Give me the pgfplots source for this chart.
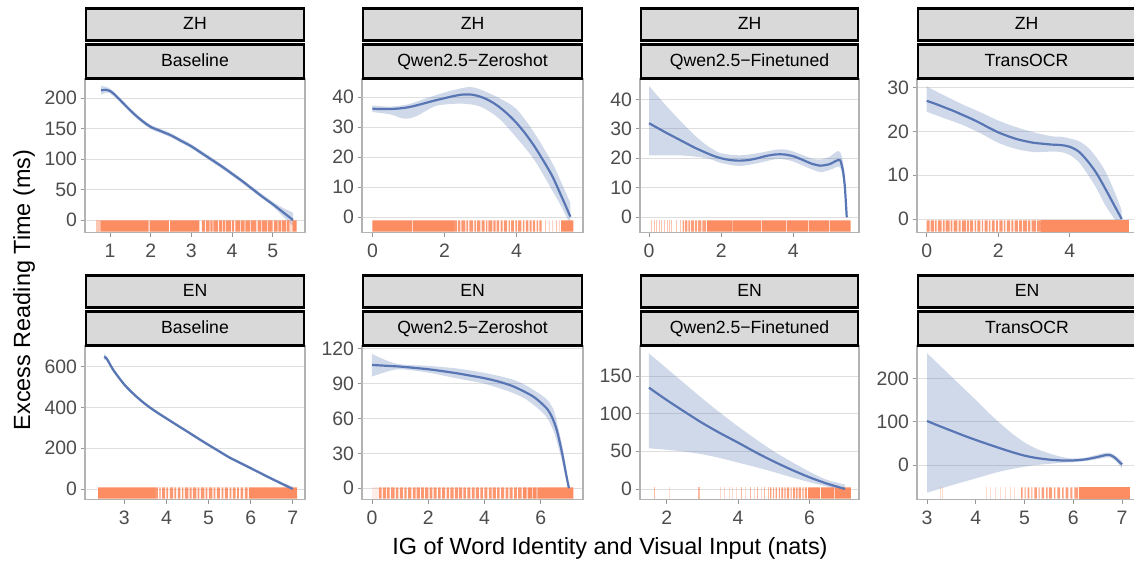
\documentclass[border=0pt]{standalone}
\usepackage{fontspec}
\setmainfont{Liberation Sans}
\usepackage{pgfplots}
\pgfplotsset{compat=1.18}
\usepgfplotslibrary{fillbetween}
\definecolor{linec}{RGB}{88,118,180}
\definecolor{rugc}{RGB}{252,141,98}
\definecolor{panelc}{RGB}{179,179,179}
\definecolor{gridc}{RGB}{222,222,222}
\definecolor{tickc}{RGB}{150,150,150}
\definecolor{labc}{RGB}{77,77,77}
\definecolor{stripc}{RGB}{217,217,217}
\pgfplotsset{
  panel/.style={
    scale only axis, height=153.3bp, anchor=south west,
    axis line style={panelc, line width=1.2bp},
    ymajorgrids, grid style={gridc, line width=0.9bp},
    tick pos=left, tick align=outside, major tick length=4.5bp,
    tick style={tickc, line width=0.9bp},
    ticklabel style={font=\fontsize{19.5}{22}\selectfont, text=labc},
    xticklabel style={yshift=-3.5bp},
    /pgf/number format/assume math mode=true,
    scaled ticks=false,
  },
  band/.style={draw=none, fill=linec, fill opacity=0.28},
  bnd/.style={draw=none, smooth, tension=0.5, forget plot},
  fit/.style={linec, line width=2.2bp, smooth, tension=0.5, mark=none},
  rugl/.style={only marks, mark=|, mark size=5.75bp, rugc, mark options={line width=0.8bp}, forget plot},
}
% rug segments: list of a/b intervals, drawn between \yb and \yt (set per panel)
\newcommand{\rugset}[2]{%
  \gdef\rugcoords{}%
  \foreach \a/\b in {#2}{\xdef\rugcoords{\rugcoords (\a,\yb) (\b,\yb) (\b,\yt) (\a,\yt) (\a,nan)}}%
  \edef\rugtmp{\noexpand\addplot[draw=none, fill=rugc, fill opacity=#1, forget plot, unbounded coords=jump] coordinates {\rugcoords};}%
  \rugtmp}
\newcommand{\facet}[5]{%
  \draw[fill=stripc, draw=black, line width=2.5bp] (#1+1.2,#3+38.7) rectangle (#1+#2-1.2,#3+70.7);
  \node[anchor=base, font=\fontsize{17.7}{20}\selectfont] at (#1+#2/2,#3+49.2) {#4};
  \draw[fill=stripc, draw=black, line width=2.5bp] (#1+1.2,#3+0.7) rectangle (#1+#2-1.2,#3+34.7);
  \node[anchor=base, font=\fontsize{17.7}{20}\selectfont] at (#1+#2/2,#3+12.2) {#5};
}
\begin{document}
\begin{tikzpicture}[x=1bp,y=1bp]

% ---------- P1: ZH Baseline
\gdef\yb{-19.2}\gdef\yt{-0.5}
\begin{axis}[panel, at={(85bp,328.7bp)}, width=220bp, xmin=0.385, xmax=5.794, ymin=-20.2, ymax=231.7,
  xtick={1,2,3,4,5}, ytick={0,50,100,150,200}]
\addplot[bnd, name path=u1] coordinates {(0.78,220) (0.9,219) (1.0,216) (1.25,200.5) (1.5,183.5) (1.75,168.5) (2.0,156.5) (2.25,149.5) (2.5,142.5) (2.75,133.5) (3.0,124.5) (3.5,102.5) (4.0,79.5) (4.5,54.5) (5.0,30) (5.25,20) (5.5,12)};
\addplot[bnd, name path=l1] coordinates {(0.78,206) (0.9,209) (1.0,208) (1.25,193.5) (1.5,176.5) (1.75,161.5) (2.0,149.5) (2.25,142.5) (2.5,135.5) (2.75,126.5) (3.0,117.5) (3.5,95.5) (4.0,72.5) (4.5,47.5) (5.0,22) (5.25,6) (5.5,-10)};
\addplot[band] fill between[of=u1 and l1];
\rugset{0.5}{0.66/0.76}
\rugset{1}{0.76/1.95, 1.975/2.45, 2.475/3.2, 5.49/5.59}
\rugset{0.95}{3.26/3.34, 3.36/3.45, 3.47/3.52, 3.54/3.66, 3.68/3.75, 3.77/3.83, 3.85/3.98, 4.0/4.05, 4.08/4.2, 4.22/4.31, 4.33/4.45, 4.47/4.6, 4.63/4.72, 4.74/4.86, 4.88/5.0, 5.03/5.12, 5.14/5.2, 5.22/5.33, 5.35/5.41}
\rugset{0.3}{5.41/5.49}
\addplot[fit] coordinates {(0.78,213) (0.9,214) (1.0,212) (1.1,207) (1.25,197) (1.5,180) (1.75,165) (2.0,153) (2.25,146) (2.5,139) (2.75,130) (3.0,121) (3.25,110) (3.5,99) (3.75,88) (4.0,76) (4.25,64) (4.5,51) (4.75,38) (5.0,26) (5.25,13) (5.5,0)};
\end{axis}

% ---------- P2: ZH Qwen2.5-Zeroshot
\gdef\yb{-4.8}\gdef\yt{-1.0}
\begin{axis}[panel, at={(362bp,328.7bp)}, width=221bp, xmin=-0.29, xmax=5.85, ymin=-5.0, ymax=46.0,
  xtick={0,2,4}, ytick={0,10,20,30,40}]
\addplot[bnd, name path=u2] coordinates {(0,37.2) (0.5,36.8) (1.0,37.6) (1.5,39.6) (2.0,41.5) (2.5,43.0) (2.75,43.3) (3.0,42.5) (3.5,39.8) (4.0,36.0) (4.5,28.0) (5.0,18.0) (5.25,11.5) (5.5,4.7)};
\addplot[bnd, name path=l2] coordinates {(0,35.0) (0.5,34.2) (0.8,33.0) (1.0,32.8) (1.25,33.8) (1.5,35.5) (1.75,37.0) (2.0,37.5) (2.5,37.8) (3.0,36.8) (3.5,33.0) (4.0,26.5) (4.5,19.0) (5.0,8.8) (5.25,3.5) (5.5,-2.5)};
\addplot[band] fill between[of=u2 and l2];
\rugset{1}{0/1.1, 1.125/2.26, 5.24/5.58}
\rugset{0.9}{2.26/2.35, 2.38/2.44, 2.47/2.58, 2.61/2.66, 2.69/2.80, 2.83/2.88, 2.91/3.0, 3.03/3.12, 3.15/3.19, 3.22/3.33, 3.36/3.42, 3.45/3.52, 3.56/3.62, 3.65/3.74, 3.78/3.82, 3.85/3.93, 3.97/4.02, 4.05/4.14, 4.18/4.22, 4.26/4.33, 4.37/4.42, 4.46/4.52, 4.56/4.6, 4.64/4.7}
\rugset{0.55}{4.80/4.82, 4.9/4.92, 5.0/5.02, 5.1/5.13, 5.18/5.2}
\addplot[fit] coordinates {(0,36.1) (0.25,36.0) (0.5,36.0) (0.75,36.2) (1.0,36.6) (1.25,37.3) (1.5,38.1) (1.75,38.9) (2.0,39.6) (2.25,40.3) (2.5,40.8) (2.75,40.8) (3.0,40.1) (3.25,38.8) (3.5,36.9) (3.75,34.4) (4.0,31.4) (4.25,27.8) (4.5,23.6) (4.75,18.8) (5.0,13.6) (5.25,7.0) (5.5,0.2)};
\end{axis}

% ---------- P3: ZH Qwen2.5-Finetuned
\gdef\yb{-4.9}\gdef\yt{-1.03}
\begin{axis}[panel, at={(640bp,328.7bp)}, width=219bp, xmin=-0.25, xmax=5.82, ymin=-5.1, ymax=46.9,
  xtick={0,2,4}, ytick={0,10,20,30,40}]
\addplot[bnd, name path=u3] coordinates {(0,44.5) (0.25,41) (0.5,37.5) (0.75,34.2) (1.0,31) (1.25,28) (1.5,25.3) (1.75,23.2) (2.0,21.7) (2.5,21.0) (3.0,21.7) (3.5,22.9) (3.75,23) (4.0,22.3) (4.5,20.0) (4.75,19.6) (5.0,20.5) (5.2,22.3) (5.3,22.0) (5.38,18.5) (5.43,12.5) (5.48,1.5)};
\addplot[bnd, name path=l3] coordinates {(0,21.0) (0.5,21.0) (1.0,20.9) (1.5,20.2) (1.75,19.5) (2.0,18.4) (2.5,17.4) (3.0,18.3) (3.5,19.7) (3.75,19.6) (4.0,18.9) (4.5,16.3) (4.75,15.3) (5.0,16.0) (5.2,17.0) (5.3,16.8) (5.38,12.5) (5.43,7.5) (5.48,-1.5)};
\addplot[band] fill between[of=u3 and l3];
\addplot[rugl, opacity=0.5] coordinates {(0.055,-2.97) (0.14,-2.97) (0.21,-2.97) (0.29,-2.97) (0.35,-2.97) (0.42,-2.97) (0.51,-2.97) (0.57,-2.97) (0.63,-2.97) (0.77,-2.97) (0.86,-2.97)};
\rugset{0.85}{0.93/0.97, 1.0/1.06, 1.09/1.13, 1.16/1.24, 1.27/1.33, 1.36/1.45, 1.48/1.58}
\rugset{1}{1.61/2.3, 2.32/3.1, 3.12/3.8, 3.82/4.4, 4.42/5.0, 5.02/5.59}
\addplot[fit, tension=0.4] coordinates {(0,31.9) (0.25,30.2) (0.5,28.5) (0.75,26.9) (1.0,25.3) (1.25,23.7) (1.5,22.3) (1.75,21.0) (2.0,20.0) (2.25,19.4) (2.5,19.2) (2.75,19.4) (3.0,20.0) (3.25,20.8) (3.5,21.3) (3.75,21.3) (4.0,20.7) (4.25,19.5) (4.5,18.2) (4.75,17.5) (5.0,18.0) (5.2,19.2) (5.3,19.3) (5.38,15.5) (5.43,10) (5.48,0)};
\end{axis}

% ---------- P4: ZH TransOCR
\gdef\yb{-2.9}\gdef\yt{-0.3}
\begin{axis}[panel, at={(917bp,328.7bp)}, width=219bp, xmin=-0.27, xmax=5.85, ymin=-3.04, ymax=32.0,
  xtick={0,2,4}, ytick={0,10,20,30}]
\addplot[bnd, name path=u4] coordinates {(0,30.3) (0.5,28.2) (1.0,26.2) (1.5,24.4) (2.0,22.5) (2.5,21.0) (3.0,19.8) (3.5,18.9) (3.75,18.8) (4.0,18.4) (4.25,17.8) (4.5,16.4) (4.75,14.0) (5.0,10.8) (5.25,6.2) (5.45,2.0)};
\addplot[bnd, name path=l4] coordinates {(0,24.5) (0.5,23.0) (1.0,21.5) (1.5,19.6) (2.0,17.4) (2.5,16.0) (3.0,15.3) (3.5,15.4) (3.75,15.3) (4.0,14.6) (4.25,13.0) (4.5,10.2) (4.75,6.9) (5.0,3.0) (5.25,0.0) (5.45,-1.8)};
\addplot[band] fill between[of=u4 and l4];
\rugset{0.9}{0/0.08, 0.11/0.2, 0.23/0.28, 0.31/0.42, 0.45/0.5, 0.53/0.64, 0.67/0.72, 0.75/0.86, 0.89/0.95, 0.98/1.1, 1.13/1.18, 1.21/1.3, 1.34/1.38, 1.42/1.5, 1.54/1.58, 1.62/1.7, 1.74/1.78, 1.82/1.9, 1.94/1.99, 2.03/2.12, 2.16/2.2, 2.24/2.33, 2.37/2.42, 2.46/2.55, 2.58/2.66, 2.69/2.8, 2.83/2.9, 2.93/3.05, 3.08/3.2}
\rugset{1}{3.2/5.66}
\addplot[fit] coordinates {(0,27.0) (0.25,26.3) (0.5,25.5) (0.75,24.7) (1.0,23.8) (1.25,22.9) (1.5,21.9) (1.75,20.8) (2.0,19.8) (2.25,19.0) (2.5,18.3) (2.75,17.8) (3.0,17.4) (3.25,17.2) (3.5,17.0) (3.75,16.9) (4.0,16.5) (4.25,15.4) (4.5,13.2) (4.75,10.4) (5.0,6.8) (5.25,3.0) (5.45,0)};
\end{axis}

% ---------- P5: EN Baseline
\gdef\yb{-47.6}\gdef\yt{8.3}
\begin{axis}[panel, at={(85bp,61.7bp)}, width=220bp, xmin=2.067, xmax=7.29, ymin=-50.5, ymax=701,
  xtick={3,4,5,6,7}, ytick={0,200,400,600}]
\addplot[bnd, name path=u5] coordinates {(2.52,663) (2.58,652) (2.65,626) (2.75,590) (3.0,521) (3.25,468) (3.5,424) (3.75,387) (4.0,353) (4.5,288) (5.0,223) (5.5,161) (6.0,109) (6.5,57) (6.75,33) (7.0,11)};
\addplot[bnd, name path=l5] coordinates {(2.52,633) (2.58,628) (2.65,604) (2.75,570) (3.0,503) (3.25,452) (3.5,408) (3.75,371) (4.0,339) (4.5,274) (5.0,209) (5.5,147) (6.0,95) (6.5,43) (6.75,17) (7.0,-11)};
\addplot[band] fill between[of=u5 and l5];
\rugset{1}{2.38/3.73, 5.96/7.1}
\rugset{0.9}{3.73/3.8, 3.83/3.86, 3.9/3.97, 4.0/4.04, 4.08/4.16, 4.19/4.23, 4.27/4.33, 4.37/4.4, 4.44/4.52, 4.55/4.6, 4.63/4.71, 4.74/4.78, 4.82/4.9, 4.93/4.97, 5.01/5.09, 5.12/5.16, 5.2/5.27, 5.31/5.35, 5.39/5.46, 5.5/5.54, 5.58/5.64, 5.68/5.72, 5.76/5.82, 5.86/5.93}
\addplot[fit] coordinates {(2.52,648) (2.58,640) (2.65,615) (2.75,580) (3.0,512) (3.25,460) (3.5,416) (3.75,379) (4.0,346) (4.25,313) (4.5,281) (4.75,248) (5.0,216) (5.25,185) (5.5,154) (5.75,128) (6.0,102) (6.25,76) (6.5,50) (6.75,25) (7.0,0)};
\end{axis}

% ---------- P6: EN Qwen2.5-Zeroshot
\gdef\yb{-9.0}\gdef\yt{0.8}
\begin{axis}[panel, at={(362bp,61.7bp)}, width=221bp, xmin=-0.355, xmax=7.50, ymin=-9.5, ymax=122.3,
  xtick={0,2,4,6}, ytick={0,30,60,90,120}]
\addplot[bnd, name path=u6] coordinates {(0,115.5) (0.5,110) (1,106.5) (2,105.2) (3,103) (4,99.2) (5,93.5) (5.5,88) (6,80.5) (6.25,75.5) (6.4,70) (6.5,64) (6.75,38) (6.9,17) (7.0,3)};
\addplot[bnd, name path=l6] coordinates {(0,96) (0.5,100) (1,102.3) (2,99.4) (3,94.5) (4,89.8) (5,82) (5.5,76) (6,66.5) (6.25,59.5) (6.4,52) (6.5,46) (6.75,24) (6.9,7) (7.0,-3)};
\addplot[band] fill between[of=u6 and l6];
\rugset{0.15}{0/0.25}
\rugset{0.9}{0.25/0.34, 0.39/0.50, 0.54/0.63, 0.68/0.80, 0.85/0.94, 0.99/1.10, 1.15/1.23, 1.28/1.40, 1.45/1.55, 1.59/1.70, 1.75/1.84, 1.89/2.00, 2.05/2.15, 2.19/2.30, 2.35/2.44, 2.49/2.60, 2.65/2.74, 2.79/2.90, 2.95/3.05, 3.09/3.20, 3.25/3.34, 3.39/3.50, 3.55/3.65, 3.69/3.80, 3.85/3.94, 3.99/4.10, 4.15/4.25, 4.29/4.40, 4.45/4.54, 4.59/4.70, 4.75/4.85, 4.89/5.00, 5.05/5.15, 5.19/5.32}
\rugset{1}{5.36/5.5, 5.53/5.68, 5.71/5.85, 5.88/7.16}
\addplot[fit] coordinates {(0,106) (0.5,105.3) (1,104.6) (1.5,103.5) (2,102.3) (2.5,100.7) (3,98.9) (3.5,96.8) (4,94.6) (4.5,91.7) (5,87.8) (5.5,82) (5.75,78.5) (6,73.6) (6.25,67.5) (6.4,61) (6.5,55) (6.6,47) (6.75,31) (6.9,12) (7.0,0)};
\end{axis}

% ---------- P7: EN Qwen2.5-Finetuned
\gdef\yb{-12.9}\gdef\yt{2.2}
\begin{axis}[panel, at={(640bp,61.7bp)}, width=219bp, xmin=1.25, xmax=7.39, ymin=-13.7, ymax=189.8,
  xtick={2,4,6}, ytick={0,50,100,150}]
\addplot[bnd, name path=u7] coordinates {(1.5,180) (2,160) (2.5,140) (3,120) (3.5,101) (4,83) (4.5,66) (5,50) (5.5,36) (6,23) (6.5,12) (7,6)};
\addplot[bnd, name path=l7] coordinates {(1.5,54) (2,52) (2.5,49.5) (3,46) (3.5,41) (4,35) (4.5,29) (5,22.5) (5.5,15.5) (6,9) (6.5,3) (7,-5)};
\addplot[band] fill between[of=u7 and l7];
\addplot[rugl, opacity=0.6] coordinates {(1.64,-5.35) (2.88,-5.35) (2.92,-5.35) (4.1,-5.35) (4.35,-5.35) (4.55,-5.35) (4.75,-5.35) (4.85,-5.35)};
\addplot[rugl, opacity=0.3] coordinates {(2.07,-5.35) (3.5,-5.35) (3.62,-5.35) (3.75,-5.35) (3.85,-5.35) (3.95,-5.35) (4.2,-5.35) (4.45,-5.35) (4.65,-5.35)};
\rugset{0.85}{4.9/4.93, 4.98/5.0, 5.05/5.09, 5.14/5.17, 5.21/5.26, 5.3/5.33, 5.37/5.43, 5.47/5.5, 5.54/5.6, 5.63/5.67, 5.7/5.76, 5.8/5.84, 5.87/5.93}
\rugset{1}{5.96/6.3, 6.33/6.7, 6.72/7.16}
\addplot[fit] coordinates {(1.5,134.5) (2,118) (2.5,102.5) (3,87.5) (3.5,74) (4,61.5) (4.5,48.5) (5,36.5) (5.5,25.5) (6,15.5) (6.5,7) (7,0)};
\end{axis}

% ---------- P8: EN TransOCR
\gdef\yb{-77.8}\gdef\yt{-51.5}
\begin{axis}[panel, at={(917bp,61.7bp)}, width=220bp, xmin=2.795, xmax=7.305, ymin=-79.2, ymax=274.6,
  xtick={3,4,5,6,7}, ytick={0,100,200}]
\addplot[bnd, name path=u8] coordinates {(3,258) (3.25,231) (3.5,204) (3.75,177) (4,150) (4.25,122) (4.5,96) (4.75,72) (5,52) (5.25,37) (5.5,27) (5.75,19) (6,15) (6.25,17) (6.5,24) (6.65,28) (6.75,28.5) (6.85,22) (6.95,13) (7,9)};
\addplot[bnd, name path=l8] coordinates {(3,-64) (3.5,-47) (4,-31) (4.5,-15) (5,-4) (5.25,0) (5.5,2.5) (5.75,5) (6,6.5) (6.25,9) (6.5,13.5) (6.65,17) (6.75,17.5) (6.85,11) (6.95,-1) (7,-8)};
\addplot[band] fill between[of=u8 and l8];
\addplot[rugl, opacity=0.3] coordinates {(3.27,-64.65) (3.32,-64.65) (4.22,-64.65) (4.3,-64.65) (4.4,-64.65) (4.5,-64.65) (4.6,-64.65) (4.7,-64.65) (4.8,-64.65)};
\rugset{0.85}{4.93/4.96, 5.0/5.02, 5.06/5.1, 5.14/5.16, 5.2/5.25, 5.29/5.31, 5.35/5.4, 5.44/5.47, 5.5/5.56, 5.6/5.63, 5.67/5.73, 5.77/5.8, 5.84/5.9, 5.94/5.98, 6.02/6.1}
\rugset{1}{6.12/7.16}
\addplot[fit] coordinates {(3,101.5) (3.25,90) (3.5,79) (3.75,68) (4,57.7) (4.25,48) (4.5,38.5) (4.75,29.5) (5,21.5) (5.25,16) (5.5,12.5) (5.75,10.5) (6,10.5) (6.25,13) (6.5,18.5) (6.65,22.5) (6.75,23) (6.85,17) (6.95,6) (7,1.5)};
\end{axis}

% ---------- strips
\facet{85}{220}{482}{ZH}{Baseline}
\facet{362}{221}{482}{ZH}{Qwen2.5−Zeroshot}
\facet{640}{219}{482}{ZH}{Qwen2.5−Finetuned}
\facet{917}{219}{482}{ZH}{TransOCR}
\facet{85}{220}{215}{EN}{Baseline}
\facet{362}{221}{215}{EN}{Qwen2.5−Zeroshot}
\facet{640}{219}{215}{EN}{Qwen2.5−Finetuned}
\facet{917}{220}{215}{EN}{TransOCR}

% ---------- axis titles
\node[anchor=base, font=\fontsize{23.5}{26}\selectfont] at (610,6.7) {IG of Word Identity and Visual Input (nats)};
\node[anchor=base, rotate=90, font=\fontsize{23.5}{26}\selectfont] at (30,271) {Excess Reading Time (ms)};

\pgfresetboundingbox
\useasboundingbox (0,0) rectangle (1134,561);
\end{tikzpicture}
\end{document}
